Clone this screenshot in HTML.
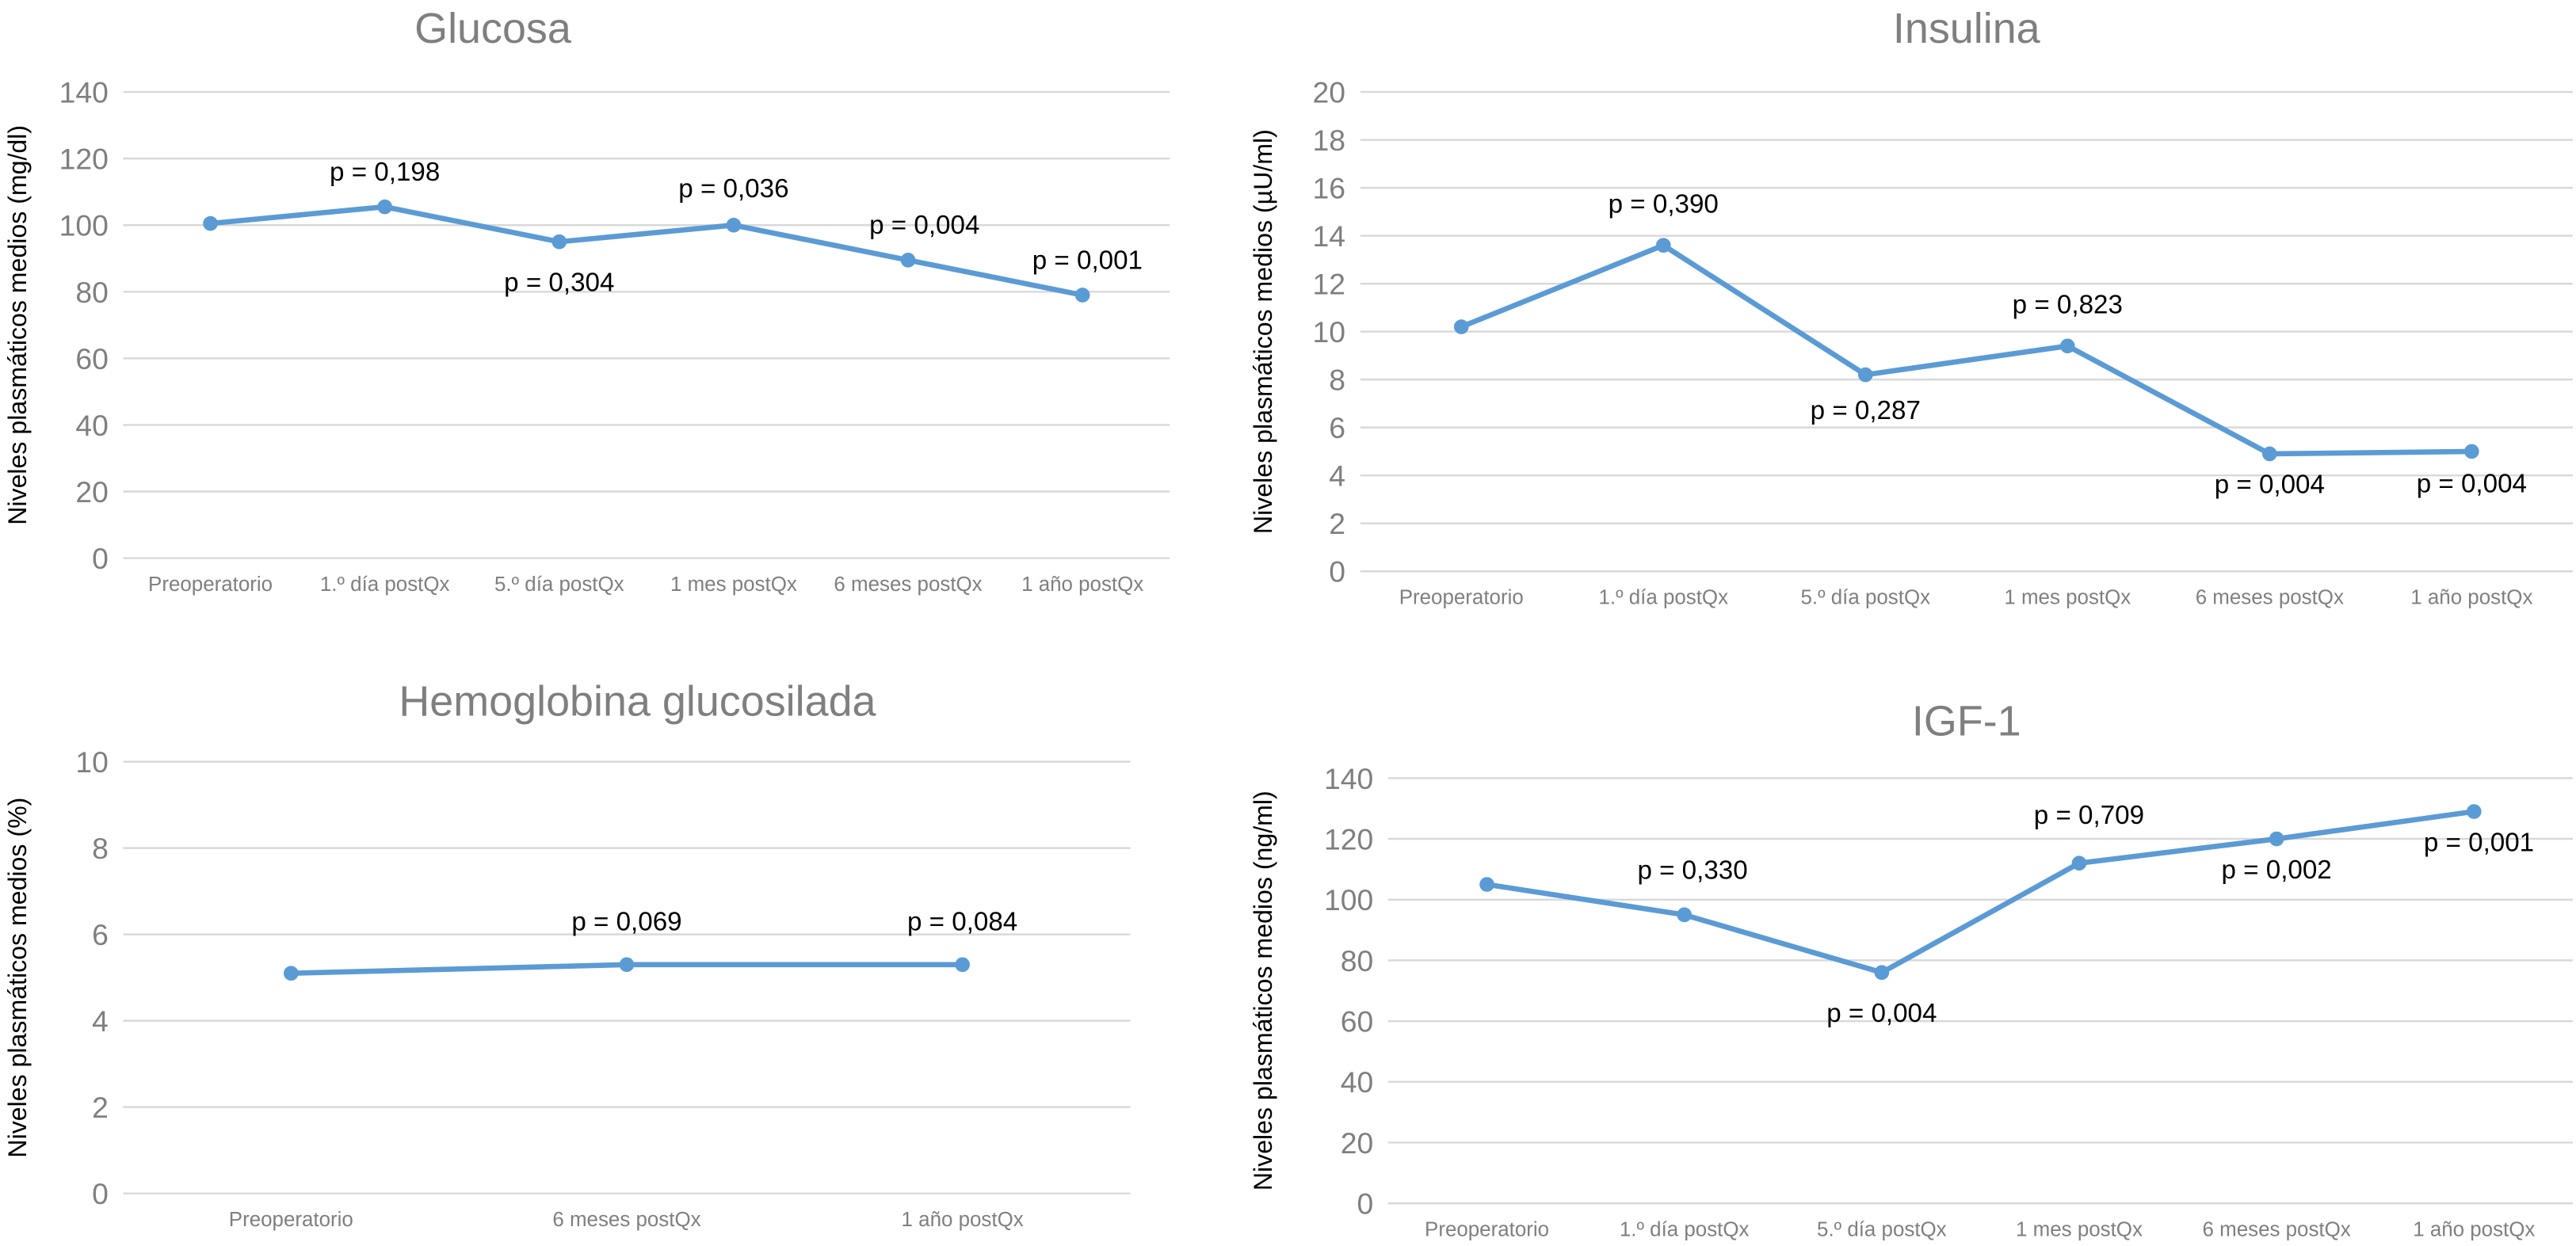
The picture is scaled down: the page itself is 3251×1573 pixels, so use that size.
<!DOCTYPE html>
<html><head><meta charset="utf-8"><style>
html,body{margin:0;padding:0;background:#fff;}
svg{display:block;font-family:"Liberation Sans",sans-serif;}
</style></head><body>
<svg id="fig" width="3251" height="1573" viewBox="0 0 1568 759" preserveAspectRatio="none" xmlns="http://www.w3.org/2000/svg"></svg>
<script>
const catsFull = ["Preoperatorio","1.º día postQx","5.º día postQx","1 mes postQx","6 meses postQx","1 año postQx"];
const catsHb = ["Preoperatorio","6 meses postQx","1 año postQx"];
const glucosaValues = [100.5,105.5,95,100,89.5,79];
const glucosaP = ["","p = 0,198","p = 0,304","p = 0,036","p = 0,004","p = 0,001"];
const glucosaTicks = [0,20,40,60,80,100,120,140];
const insulinaValues = [10.2,13.6,8.2,9.4,4.9,5.0];
const insulinaP = ["","p = 0,390","p = 0,287","p = 0,823","p = 0,004","p = 0,004"];
const insulinaTicks = [0,2,4,6,8,10,12,14,16,18,20];
const hbValues = [5.1,5.3,5.3];
const hbP = ["","p = 0,069","p = 0,084"];
const hbTicks = [0,2,4,6,8,10];
const igfValues = [105,95,76,112,120,129];
const igfP = ["","p = 0,330","p = 0,004","p = 0,709","p = 0,002","p = 0,001"];
const igfTicks = [0,20,40,60,80,100,120,140];

const NS="http://www.w3.org/2000/svg";
const svg=document.getElementById('fig');
function mk(tag,attrs,parent){const e=document.createElementNS(NS,tag);for(const k in attrs)e.setAttribute(k,attrs[k]);(parent||svg).appendChild(e);return e;}

function chart(key,title,ytitle,cats,vals,pl,ticks,L){
  const g=mk('g',{});
  
  
  const max=ticks[ticks.length-1];
  const ys=v=>L.y0-(v/max)*(L.y0-L.yTop);
  const bw=(L.x1-L.x0)/cats.length;
  const xs=i=>L.x0+bw*(i+0.5);
  const t=mk('text',{x:L.tx,y:L.ty,'text-anchor':'middle','font-size':26,fill:'#7f7f7f'},g);t.textContent=title;
  
  const yt=mk('text',{x:0,y:0,'text-anchor':'middle','font-size':15.5,fill:'#000',transform:`translate(${L.ytx},${(L.y0+L.yTop)/2}) rotate(-90)`},g);yt.textContent=ytitle;
  
  ticks.forEach(v=>{
    const y=ys(v);
    const ln=mk('line',{x1:L.x0,x2:L.x1,y1:y,y2:y,stroke:'#d9d9d9','stroke-width':1.2},g);
    
    const tl=mk('text',{x:L.x0-9,y:y+6.5,'text-anchor':'end','font-size':18,fill:'#7f7f7f'},g);tl.textContent=v;
    
  });
  cats.forEach((c,i)=>{
    const xl=mk('text',{x:xs(i),y:L.y0+20,'text-anchor':'middle','font-size':12.5,fill:'#7f7f7f'},g);xl.textContent=c;
    
  });
  const pts=vals.map((v,i)=>xs(i)+','+ys(v)).join(' ');
  const pl2=mk('polyline',{points:pts,fill:'none',stroke:'#5b9bd5','stroke-width':3.2,'stroke-linejoin':'round'},g);
  
  vals.forEach((v,i)=>{
    const c=mk('circle',{cx:xs(i),cy:ys(v),r:4.5,fill:'#5b9bd5'},g);
    
    if(pl[i]){
      const o=L.off[i];
      const tx=mk('text',{x:xs(i)+o[0],y:ys(v)+o[1],'text-anchor':'middle','font-size':16,fill:'#000'},g);tx.textContent=pl[i];
      
    }
  });
}
chart('glucosa','Glucosa','Niveles plasmáticos medios (mg/dl)',catsFull,glucosaValues,glucosaP,glucosaTicks,
  {x0:75,x1:712,yTop:56,y0:340,tx:300,ty:26,ytx:16,off:[[0,0],[0,-16],[0,30],[0,-17],[10,-16],[3,-16]]});
chart('insulina','Insulina','Niveles plasmáticos medios (µU/ml)',catsFull,insulinaValues,insulinaP,insulinaTicks,
  {x0:828,x1:1566,yTop:56,y0:348,tx:1197,ty:26,ytx:774,off:[[0,0],[0,-20],[0,27],[0,-20],[0,24],[0,25]]});
chart('hba1c','Hemoglobina glucosilada','Niveles plasmáticos medios (%)',catsHb,hbValues,hbP,hbTicks,
  {x0:75,x1:688,yTop:464,y0:727,tx:388,ty:436,ytx:16,off:[[0,0],[0,-21],[0,-21]]});
chart('igf1','IGF-1','Niveles plasmáticos medios (ng/ml)',catsFull,igfValues,igfP,igfTicks,
  {x0:845,x1:1566,yTop:474,y0:733,tx:1197,ty:448,ytx:774,off:[[0,0],[5,-22],[0,30],[6,-24],[0,24],[3,24]]});
</script>
</body></html>
